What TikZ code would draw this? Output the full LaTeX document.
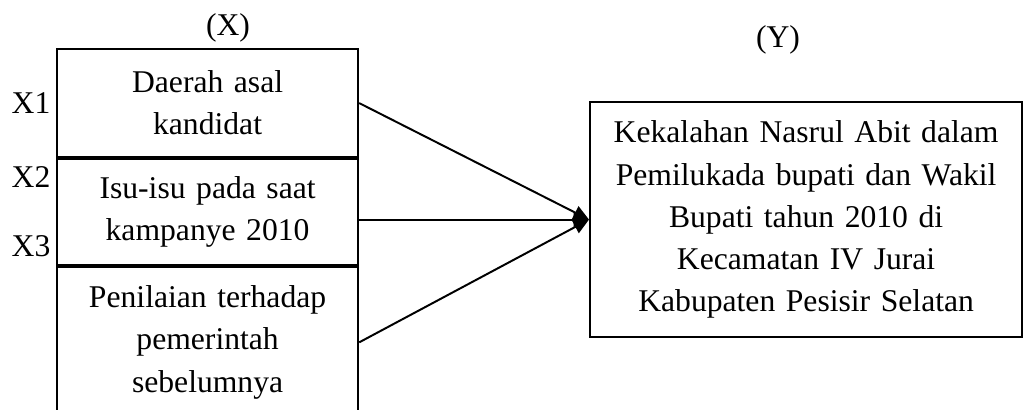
\documentclass[tikz,border=0pt]{standalone}
\usepackage{fontspec}
\setmainfont{Liberation Serif}
\usetikzlibrary{positioning,arrows.meta}
\tikzset{
    variabel/.style = {rectangle, draw=black, line width=1.5pt, minimum width=7.525cm, text width=7cm, align=center, inner sep=0pt, font=\fontsize{22.5}{30}\selectfont},
    hasil/.style = {rectangle, draw=black, line width=1.5pt, minimum width=10.8cm, minimum height=5.875cm, text width=10.2cm, align=center, inner sep=0pt, font=\fontsize{22.5}{30}\selectfont},
    tanda/.style = {inner sep=0pt, font=\fontsize{22.5}{30}\selectfont},
    panah/.style = {-{Triangle[length=11pt,width=10pt]}, line width=1.4pt}
}
\begin{document}
\begin{tikzpicture}[x=0.025cm, y=-0.025cm]
    \useasboundingbox (0,0) rectangle (1023,409);
    \clip (0,0) rectangle (1023,409);

    \node [variabel, minimum height=2.7cm, anchor=north west] (daerah) at (56,48) {Daerah asal\\kandidat};
    \node [variabel, minimum height=2.65cm, below=0pt of daerah] (isu) {Isu-isu pada saat\\kampanye 2010};
    \node [variabel, minimum height=3.75cm, below=0pt of isu] (nilai) {Penilaian terhadap\\pemerintah\\sebelumnya};
    \node [hasil, anchor=north west] (kekalahan) at (589,101) {Kekalahan Nasrul Abit dalam\\Pemilukada bupati dan Wakil\\Bupati tahun 2010 di\\Kecamatan IV Jurai\\Kabupaten Pesisir Selatan};

    \node [tanda] (judulx) at (228,28) {(X)};
    \node [tanda] (juduly) at (778,40) {(Y)};
    \node [tanda] (x1) at (31,103) {X1};
    \node [tanda] (x2) at (31,177) {X2};
    \node [tanda] (x3) at (31,246) {X3};

    \draw [panah] (daerah.east) -- (kekalahan.west);
    \draw [panah] (isu.east |- kekalahan.west) -- (kekalahan.west);
    \draw [panah] (nilai.east) -- (kekalahan.west);
\end{tikzpicture}
\end{document}
